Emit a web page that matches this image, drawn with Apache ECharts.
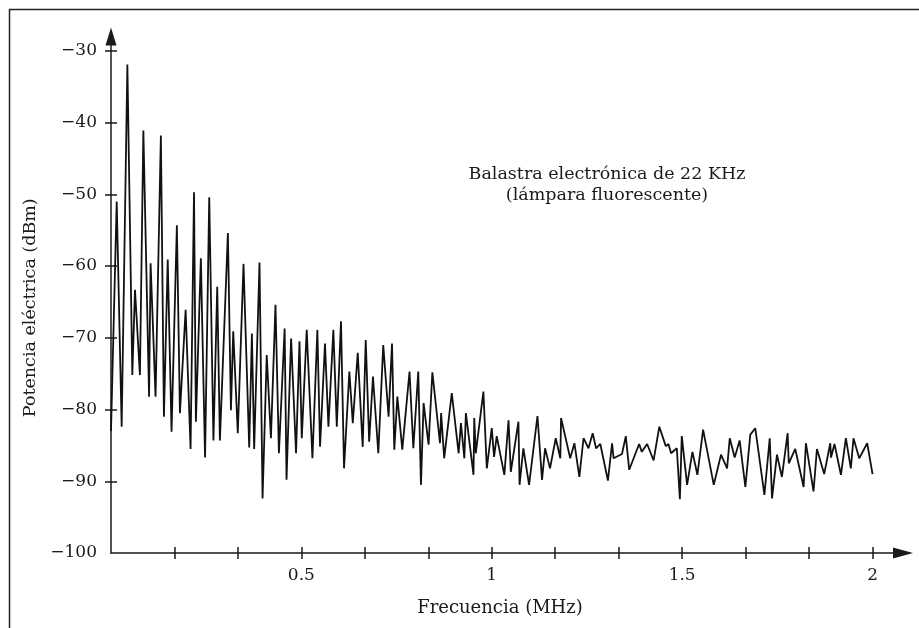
<!DOCTYPE html>
<html>
<head>
<meta charset="utf-8">
<script src="https://cdn.jsdelivr.net/npm/echarts@6/dist/echarts.min.js"></script>
<style>html,body{margin:0;padding:0;background:#fff}#c{width:919px;height:628px}</style>
</head>
<body>
<div id="c"></div>
<script>
// Frequency (MHz) of each traced vertex
const freqMHz = [
  0.000,0.015,0.028,0.043,0.056,0.063,0.076,0.085,0.100,0.104,
  0.117,0.131,0.139,0.149,0.159,0.173,0.181,0.196,0.209,0.218,
  0.223,0.236,0.247,0.258,0.269,0.279,0.286,0.307,0.315,0.321,
  0.333,0.348,0.363,0.370,0.376,0.390,0.398,0.409,0.420,0.432,
  0.441,0.456,0.461,0.473,0.486,0.495,0.501,0.514,0.529,0.542,
  0.549,0.562,0.571,0.584,0.593,0.604,0.612,0.626,0.635,0.648,
  0.661,0.669,0.678,0.688,0.702,0.715,0.729,0.738,0.744,0.752,
  0.765,0.784,0.794,0.807,0.814,0.821,0.834,0.844,0.864,0.867,
  0.875,0.895,0.913,0.919,0.928,0.932,0.952,0.954,0.958,0.978,
  0.987,1.000,1.006,1.013,1.033,1.044,1.050,1.070,1.073,1.083,
  1.098,1.120,1.132,1.140,1.153,1.168,1.180,1.182,1.206,1.217,
  1.230,1.241,1.254,1.265,1.274,1.285,1.305,1.316,1.320,1.342,
  1.352,1.361,1.387,1.394,1.408,1.425,1.440,1.457,1.464,1.471,
  1.486,1.494,1.499,1.513,1.527,1.540,1.555,1.583,1.602,1.618,
  1.625,1.638,1.651,1.666,1.679,1.692,1.716,1.730,1.736,1.749,
  1.762,1.777,1.780,1.797,1.819,1.825,1.845,1.854,1.873,1.889,
  1.891,1.900,1.917,1.930,1.943,1.950,1.965,1.986,2.000
];
// Power (dBm) at each vertex
const powerDBm = [
  -83,-51.0,-82.4,-31.9,-75.2,-63.3,-75.2,-41.1,-78.2,-59.6,
  -78.2,-41.8,-81.0,-59.1,-83.1,-54.3,-80.5,-66.1,-85.5,-49.7,
  -81.7,-58.9,-86.7,-50.4,-84.3,-62.9,-84.3,-55.4,-80.1,-69.1,
  -83.3,-59.7,-85.3,-69.4,-85.5,-59.5,-92.4,-72.4,-84.0,-65.4,
  -86.1,-68.7,-89.8,-70.1,-86.1,-70.5,-84.0,-68.9,-86.8,-68.9,
  -85.2,-70.8,-82.4,-68.9,-82.4,-67.7,-88.2,-74.7,-81.9,-72.1,
  -85.2,-70.3,-84.5,-75.4,-86.1,-71.0,-81.0,-70.8,-85.6,-78.2,
  -85.6,-74.7,-85.4,-74.7,-90.5,-79.1,-84.9,-74.8,-84.7,-80.5,
  -86.8,-77.7,-86.1,-81.9,-86.8,-80.5,-89.1,-81.2,-86.1,-77.5,
  -88.2,-82.6,-86.6,-83.7,-89.1,-81.5,-88.7,-81.7,-90.5,-85.4,
  -90.5,-80.9,-89.8,-85.4,-88.2,-84.0,-86.8,-81.2,-86.8,-84.7,
  -89.4,-84.0,-85.4,-83.3,-85.4,-84.8,-89.9,-84.7,-86.8,-86.2,
  -83.7,-88.4,-84.8,-85.9,-84.8,-87.1,-82.4,-85.1,-84.8,-86.1,
  -85.4,-92.5,-83.7,-90.5,-85.9,-89.1,-82.8,-90.5,-86.3,-88.2,
  -84.0,-86.7,-84.3,-90.8,-83.5,-82.6,-91.9,-84.0,-92.4,-86.3,
  -89.4,-83.3,-87.5,-85.5,-90.8,-84.7,-91.4,-85.5,-89.0,-84.7,
  -86.7,-84.8,-89.1,-84.0,-88.2,-84.0,-86.8,-84.7,-89.0
];
// Tick positions and labels
const xTickValues = [1/6,2/6,3/6,4/6,5/6,1,7/6,8/6,9/6,10/6,11/6,2];
const xLabelValues = [0.5, 1, 1.5, 2];
const yTickValues = [-90,-80,-70,-60,-50,-40,-30];
const yLabelValues = [-100,-90,-80,-70,-60,-50,-40,-30];

const xTitle = 'Frecuencia (MHz)';
const yTitle = 'Potencia eléctrica (dBm)';
const noteLines = ['Balastra electrónica de 22 KHz', '(lámpara fluorescente)'];

const FONT = '"DejaVu Serif", "Liberation Serif", serif';
const INK = '#1a1a1a';

const chart = echarts.init(document.getElementById('c'), null, {renderer: 'canvas'});

const seriesData = freqMHz.map((f, i) => [f, powerDBm[i]]);

const fmtY = v => (v < 0 ? '\u2212' + Math.abs(v) : String(v));

chart.setOption({
  animation: false,
  backgroundColor: '#fff',
  grid: {left: 111, right: 16, top: 36.5, bottom: 75, containLabel: false},
  xAxis: [
    {
      type: 'value', min: 0, max: 2.08, position: 'bottom',
      splitLine: {show: false},
      axisLine: {show: true, onZero: false, symbol: ['none', 'triangle'], symbolSize: [11, 20],
        lineStyle: {color: INK, width: 1.5}},
      axisTick: {show: true, inside: false, length: 6, customValues: xTickValues,
        lineStyle: {color: INK, width: 1.5}},
      axisLabel: {show: true, customValues: xLabelValues, margin: 14,
        color: INK, fontFamily: FONT, fontSize: 17,
        formatter: v => String(Math.round(v * 10) / 10)},
      name: xTitle, nameLocation: 'middle', nameGap: 46,
      nameTextStyle: {color: INK, fontFamily: FONT, fontSize: 18, padding: [0, 14, 0, 0]}
    },
    {
      type: 'value', min: 0, max: 2.08, position: 'bottom',
      splitLine: {show: false},
      axisLine: {show: false, onZero: false},
      axisTick: {show: true, inside: true, length: 6, customValues: xTickValues,
        lineStyle: {color: INK, width: 1.5}},
      axisLabel: {show: false}
    }
  ],
  yAxis: [
    {
      type: 'value', min: -100, max: -28, position: 'left',
      splitLine: {show: false},
      axisLine: {show: true, onZero: false, symbol: ['none', 'triangle'], symbolSize: [11, 18],
        lineStyle: {color: INK, width: 1.5}},
      axisTick: {show: true, inside: false, length: 6, customValues: yTickValues,
        lineStyle: {color: INK, width: 1.5}},
      axisLabel: {show: true, customValues: yLabelValues, margin: 14,
        color: INK, fontFamily: FONT, fontSize: 17, formatter: fmtY},
      name: yTitle, nameLocation: 'middle', nameGap: 70, nameRotate: 90,
      nameTextStyle: {color: INK, fontFamily: FONT, fontSize: 17.5, padding: [0, 26, 0, 0]}
    },
    {
      type: 'value', min: -100, max: -28, position: 'left',
      splitLine: {show: false},
      axisLine: {show: false, onZero: false},
      axisTick: {show: true, inside: true, length: 6, customValues: yTickValues,
        lineStyle: {color: INK, width: 1.5}},
      axisLabel: {show: false}
    }
  ],
  series: [{
    type: 'line',
    xAxisIndex: 0, yAxisIndex: 0,
    data: seriesData,
    showSymbol: false,
    symbol: 'none',
    lineStyle: {color: '#111', width: 1.8},
    z: 3
  }],
  graphic: [
    {type: 'line', shape: {x1: 9, y1: 9.5, x2: 919, y2: 9.5}, style: {stroke: '#222', lineWidth: 1.5}},
    {type: 'line', shape: {x1: 9.5, y1: 9, x2: 9.5, y2: 628}, style: {stroke: '#222', lineWidth: 1.5}},
    {type: 'text', x: 607, y: 174, style: {text: noteLines[0], fill: INK, font: '17.5px ' + FONT, align: 'center', verticalAlign: 'middle'}},
    {type: 'text', x: 607, y: 195, style: {text: noteLines[1], fill: INK, font: '17.5px ' + FONT, align: 'center', verticalAlign: 'middle'}}
  ]
});
</script>
</body>
</html>
